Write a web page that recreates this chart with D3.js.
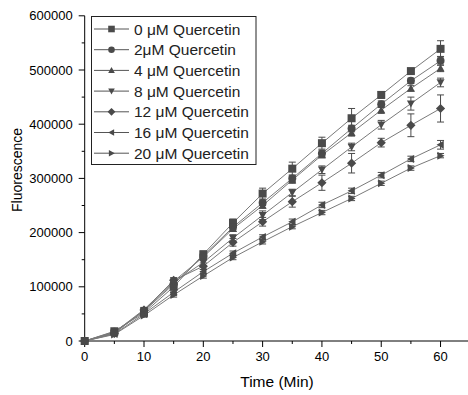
<!DOCTYPE html>
<html><head><meta charset="utf-8">
<script src="https://cdn.jsdelivr.net/npm/d3@7"></script>
<style>html,body{margin:0;padding:0;background:#fff;}svg{display:block;}</style>
</head><body>
<svg id="chart" width="468" height="395"></svg>
<script>
const times = [0,5,10,15,20,25,30,35,40,45,50,55,60];
const seriesNames = ["0 μM Quercetin","2μM Quercetin","4 μM Quercetin","8 μM Quercetin","12 μM Quercetin","16 μM Quercetin","20 μM Quercetin"];
const shapes = ["square","circle","triUp","triDown","diamond","triLeft","triRight"];
const q0  = [0,18000,52000,100000,160000,218000,272000,318000,365000,411000,454000,498000,539000];
const q2  = [0,17000,55000,105000,157000,210000,255000,300000,346000,392000,437000,480000,517000];
const q4  = [0,16000,58000,110000,155000,207000,250000,297000,343000,384000,426000,466000,503000];
const q8  = [0,15000,56000,108000,145000,190000,232000,274000,316000,358000,399000,438000,477000];
const q12 = [0,14000,57000,112000,138000,182000,220000,257000,292000,328000,366000,398000,429000];
const q16 = [0,13000,50000,90000,128000,162000,192000,220000,251000,277000,306000,336000,362000];
const q20 = [0,12000,47000,85000,120000,154000,183000,211000,237000,263000,291000,319000,342000];
const e0  = [0,4000,5000,5000,6000,7000,10000,12000,11000,18000,6000,4000,15000];
const e2  = [0,3000,4000,5000,5000,5000,5000,6000,6000,6000,6000,5000,8000];
const e4  = [0,3000,4000,5000,5000,5000,5000,6000,5000,6000,6000,5000,6000];
const e8  = [0,3000,4000,5000,6000,6000,8000,6000,7000,7000,8000,12000,8000];
const e12 = [0,3000,4000,5000,6000,7000,8000,10000,14000,18000,8000,21000,25000];
const e16 = [0,3000,4000,4000,4000,4000,4000,5000,5000,5000,5000,5000,8000];
const e20 = [0,3000,3000,4000,4000,4000,4000,4000,4000,4000,4000,4000,4000];
const values = [q0,q2,q4,q8,q12,q16,q20];
const errors = [e0,e2,e4,e8,e12,e16,e20];
const yTicks = [0,100000,200000,300000,400000,500000,600000];
const xTicks = [0,10,20,30,40,50,60];

const svg = d3.select("#chart");
const x = d3.scaleLinear().domain([0,65]).range([84.7,470.2]);
const y = d3.scaleLinear().domain([0,600000]).range([341,15.8]);
const font = "'Liberation Sans', Arial, sans-serif";
const markColor = "#4a4a4a", lineColor = "#7a7a7a";

function shapePath(s, r){
  switch(s){
    case "square": return `M${-r},${-r}H${r}V${r}H${-r}Z`;
    case "circle": return `M${-r},0A${r},${r} 0 1,0 ${r},0A${r},${r} 0 1,0 ${-r},0Z`;
    case "triUp": return `M0,${-r}L${r},${r*0.8}L${-r},${r*0.8}Z`;
    case "triDown": return `M0,${r}L${r},${-r*0.8}L${-r},${-r*0.8}Z`;
    case "diamond": return `M0,${-r-0.6}L${r+0.6},0L0,${r+0.6}L${-r-0.6},0Z`;
    case "triLeft": return `M${-r},0L${r*0.8},${-r}L${r*0.8},${r}Z`;
    case "triRight": return `M${r},0L${-r*0.8},${-r}L${-r*0.8},${r}Z`;
  }
}

// axes
const xAxis = d3.axisBottom(x).tickValues(d3.range(0,66,5)).tickSize(0).tickFormat("");
const gx = svg.append("g").attr("transform",`translate(0,${y(0)})`);
gx.append("line").attr("x1",x(0)).attr("x2",x(65)).attr("stroke","#000");
gx.selectAll(".mj").data(xTicks).join("line").attr("x1",d=>x(d)).attr("x2",d=>x(d)).attr("y1",0).attr("y2",6).attr("stroke","#000");
gx.selectAll(".mn").data(d3.range(5,66,10)).join("line").attr("class","mn").attr("x1",d=>x(d)).attr("x2",d=>x(d)).attr("y1",0).attr("y2",3).attr("stroke","#000");
gx.selectAll("text").data(xTicks).join("text").attr("x",d=>x(d)).attr("y",20).attr("text-anchor","middle")
  .attr("font-family",font).attr("font-size",13).attr("fill","#000").text(d=>d);

const gy = svg.append("g").attr("transform",`translate(${x(0)},0)`);
gy.append("line").attr("y1",y(0)).attr("y2",y(600000)).attr("stroke","#000");
gy.selectAll(".mj").data(yTicks).join("line").attr("class","mj").attr("y1",d=>y(d)).attr("y2",d=>y(d)).attr("x1",0).attr("x2",-6).attr("stroke","#000");
gy.selectAll(".mn").data(d3.range(50000,600000,100000)).join("line").attr("class","mn").attr("y1",d=>y(d)).attr("y2",d=>y(d)).attr("x1",0).attr("x2",-3).attr("stroke","#000");
gy.selectAll("text").data(yTicks).join("text").attr("x",-12).attr("y",d=>y(d)+4.5).attr("text-anchor","end")
  .attr("font-family",font).attr("font-size",13).attr("fill","#000").text(d=>d);

svg.append("text").attr("transform","translate(22,170) rotate(-90)").attr("text-anchor","middle")
  .attr("font-family",font).attr("font-size",14).attr("fill","#000").text("Fluorescence");
svg.append("text").attr("x",277).attr("y",387).attr("text-anchor","middle")
  .attr("font-family",font).attr("font-size",15.5).attr("fill","#000").text("Time (Min)");

// lines
const line = d3.line().x((d,i)=>x(times[i])).y(d=>y(d));
values.forEach((v)=>{
  svg.append("path").attr("d",line(v)).attr("fill","none").attr("stroke",lineColor).attr("stroke-width",1);
});
// error bars & markers
values.forEach((v,si)=>{
  const g = svg.append("g");
  v.forEach((val,i)=>{
    const e = errors[si][i];
    if(e>0){
      const cx = x(times[i]);
      g.append("line").attr("x1",cx).attr("x2",cx).attr("y1",y(val+e)).attr("y2",y(val-e)).attr("stroke",markColor);
      g.append("line").attr("x1",cx-3.5).attr("x2",cx+3.5).attr("y1",y(val+e)).attr("y2",y(val+e)).attr("stroke",markColor);
      g.append("line").attr("x1",cx-3.5).attr("x2",cx+3.5).attr("y1",y(val-e)).attr("y2",y(val-e)).attr("stroke",markColor);
    }
  });
  g.selectAll("path").data(v).join("path").attr("d",shapePath(shapes[si],4))
    .attr("transform",(d,i)=>`translate(${x(times[i])},${y(d)})`).attr("fill",markColor);
});

// legend
const lg = svg.append("g");
lg.append("rect").attr("x",91.5).attr("y",16.5).attr("width",164.5).attr("height",148).attr("fill","#fff").attr("stroke","#222");
seriesNames.forEach((n,i)=>{
  const cy = 29 + i*20.7;
  lg.append("line").attr("x1",94).attr("x2",129).attr("y1",cy).attr("y2",cy).attr("stroke","#555");
  lg.append("path").attr("d",shapePath(shapes[i],3.3)).attr("transform",`translate(111.5,${cy})`).attr("fill",markColor);
  lg.append("text").attr("x",134).attr("y",cy+5.5).attr("font-family",font).attr("font-size",15.5).attr("fill","#222").text(n);
});
</script>
</body></html>
